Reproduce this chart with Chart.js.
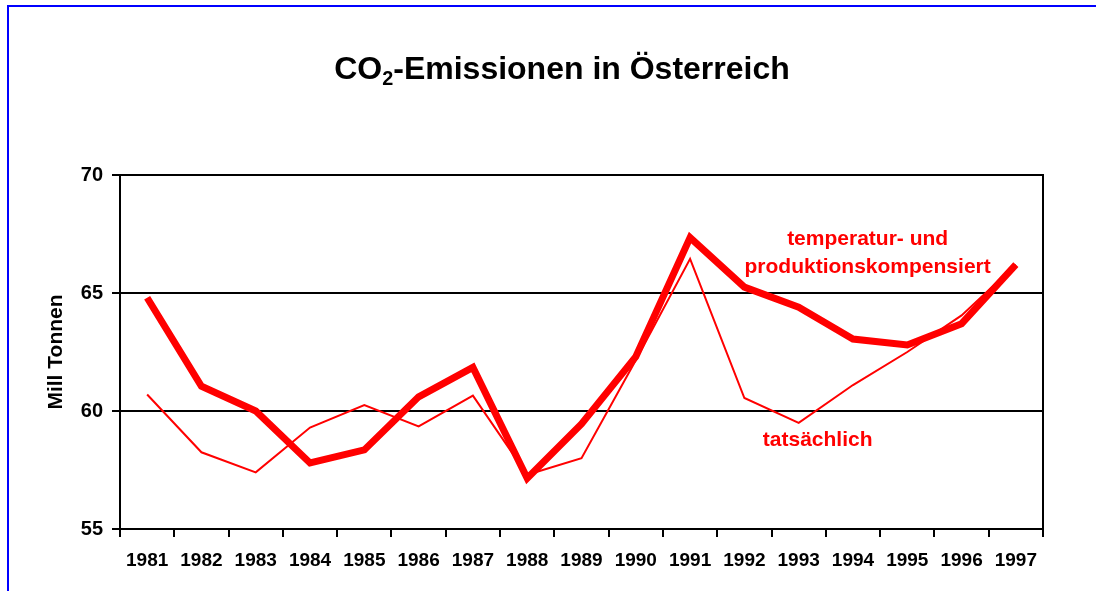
<!DOCTYPE html>
<html>
<head>
<meta charset="utf-8">
<script src="https://cdn.jsdelivr.net/npm/chart.js@4/dist/chart.umd.min.js"></script>
<style>
  html, body { margin: 0; padding: 0; background: #fff; }
  #wrap { position: relative; width: 1096px; height: 591px; overflow: hidden; }
  #rahmen { position: absolute; left: 7px; top: 5px; width: 1200px; height: 700px; border: 2px solid #0000ff; }
  #titel {
    position: absolute; left: 562px; top: 52px; transform: translateX(-50%);
    font: bold 32px "Liberation Sans", Arial, sans-serif; line-height: 1; white-space: nowrap; color: #000;
  }
  #titel span { font-size: 0.62em; vertical-align: -0.28em; }
  canvas { position: absolute; left: 0; top: 0; }
</style>
</head>
<body>
<div id="wrap">
  <div id="rahmen"></div>
  <canvas id="grafik" width="1096" height="591"></canvas>
  <div id="titel">CO<span>2</span>-Emissionen in Österreich</div>
</div>
<script>
// Jahre
const jahre = ['1981', '1982', '1983', '1984', '1985', '1986', '1987', '1988', '1989',
               '1990', '1991', '1992', '1993', '1994', '1995', '1996', '1997'];

// temperatur- und produktionskompensiert (Mill Tonnen)
const kompensiert = [64.8, 61.05, 60.0, 57.8, 58.35, 60.6, 61.85, 57.15, 59.45,
                     62.3, 67.35, 65.25, 64.4, 63.05, 62.8, 63.7, 66.2];

// tatsaechlich (Mill Tonnen)
const tatsaechlich = [60.7, 58.25, 57.4, 59.3, 60.25, 59.35, 60.65, 57.3, 58.0,
                      62.15, 66.45, 60.55, 59.5, 61.1, 62.5, 64.05, 66.2];

// y achse
const yTicks = [55, 60, 65, 70];

const schrift = '"Liberation Sans", Arial, sans-serif';

// rahmen um plotbereich + beschriftung der linien
const extras = {
    id: 'extras',
    afterDraw(chart) {
        const { ctx, chartArea: a, scales } = chart;
        ctx.save();
        ctx.strokeStyle = '#000';
        ctx.lineWidth = 2;
        ctx.strokeRect(a.left, a.top, a.right - a.left, a.bottom - a.top);

        ctx.fillStyle = '#ff0000';
        ctx.font = 'bold 21px ' + schrift;
        ctx.textAlign = 'center';
        ctx.textBaseline = 'middle';
        const x = scales.x, y = scales.y;
        ctx.fillText('temperatur- und', x.getPixelForValue(13.27), y.getPixelForValue(67.3));
        ctx.fillText('produktionskompensiert', x.getPixelForValue(13.27), y.getPixelForValue(66.1));
        ctx.fillText('tatsächlich', x.getPixelForValue(12.35), y.getPixelForValue(58.75));
        ctx.restore();
    }
};

const ctx = document.getElementById('grafik').getContext('2d');
const grafik = new Chart(ctx, {
    type: 'line',
    data: {
        labels: jahre,
        datasets: [
            {
                label: 'tatsächlich',
                data: tatsaechlich,
                borderColor: '#ff0000',
                borderWidth: 2,
                pointRadius: 0,
                tension: 0
            },
            {
                label: 'temperatur- und produktionskompensiert',
                data: kompensiert,
                borderColor: '#ff0000',
                borderWidth: 7,
                pointRadius: 0,
                tension: 0
            }
        ]
    },
    options: {
        responsive: false,
        animation: false,
        devicePixelRatio: 1,
        layout: { padding: { top: 175, right: 53, left: 0, bottom: 0 } },
        plugins: {
            legend: { display: false },
            title: { display: false },
            tooltip: { enabled: false }
        },
        scales: {
            x: {
                offset: true,
                grid: {
                    offset: true,
                    drawOnChartArea: false,
                    color: '#000',
                    lineWidth: 2,
                    tickLength: 8
                },
                border: { color: '#000', width: 2 },
                ticks: {
                    color: '#000',
                    padding: 12,
                    maxRotation: 0,
                    autoSkip: false,
                    font: { family: schrift, size: 19, weight: 'bold' }
                },
                afterFit(scale) { scale.height = 62; }
            },
            y: {
                min: 55,
                max: 70,
                afterBuildTicks(scale) { scale.ticks = yTicks.map(v => ({ value: v })); },
                grid: { color: '#000', lineWidth: 2, tickLength: 8 },
                border: { color: '#000', width: 2 },
                ticks: {
                    color: '#000',
                    padding: 9,
                    font: { family: schrift, size: 20, weight: 'bold' }
                },
                title: {
                    display: true,
                    text: 'Mill Tonnen',
                    color: '#000',
                    padding: { top: 44, bottom: 0 },
                    font: { family: schrift, size: 21, weight: 'bold' }
                },
                afterFit(scale) { scale.width = 120; }
            }
        }
    },
    plugins: [extras]
});
</script>
</body>
</html>
